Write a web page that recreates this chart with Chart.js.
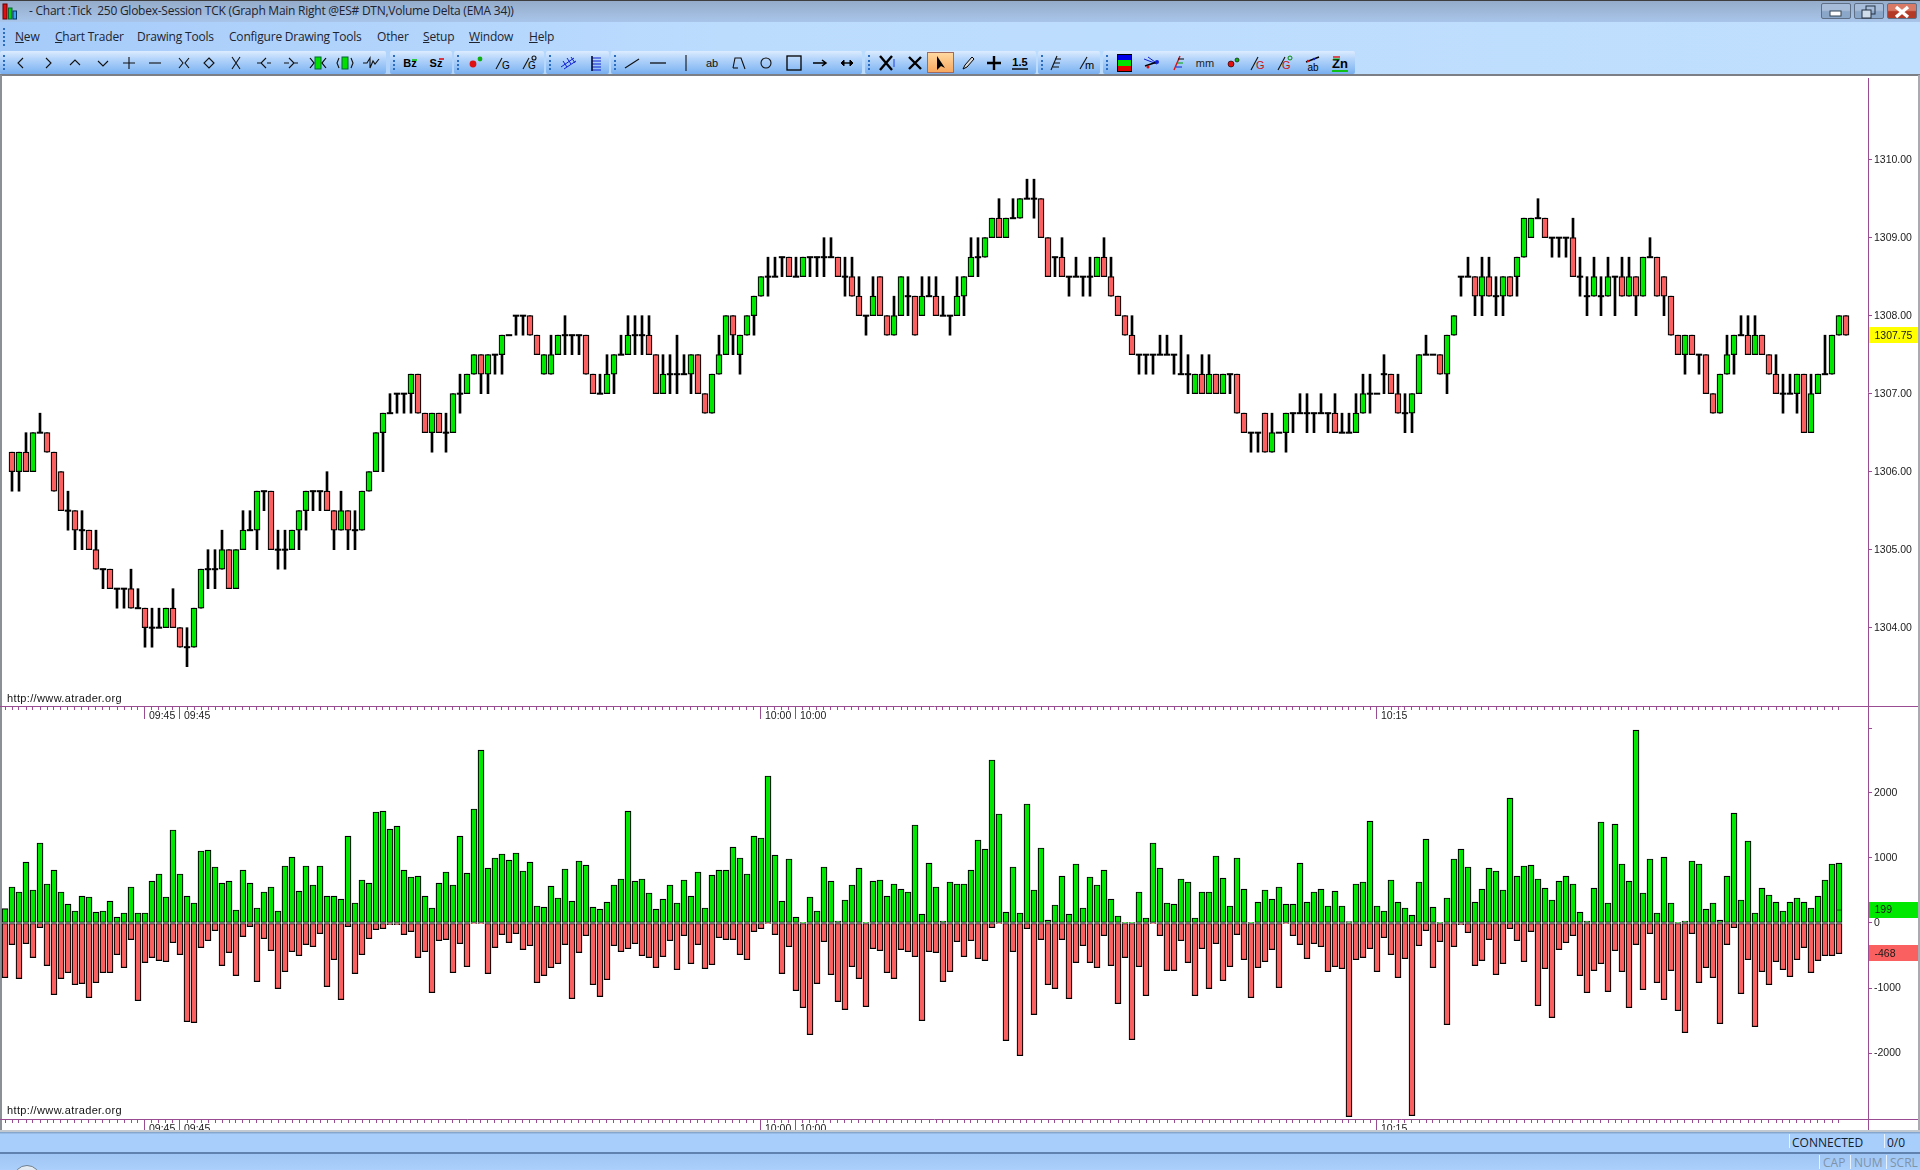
<!DOCTYPE html>
<html><head><meta charset="utf-8"><title>Chart</title>
<script src="https://cdn.jsdelivr.net/npm/chart.js@4/dist/chart.umd.js"></script>
<style>
html,body{margin:0;padding:0;background:#fff;width:1920px;height:1170px;overflow:hidden;font-family:"Liberation Sans",Arial,sans-serif}
.a{position:absolute}
canvas{position:absolute;left:0}
.ui{font-family:"Open Sans","Noto Sans",sans-serif;white-space:pre;color:#1c2430}
.menu u{text-decoration:underline}
.group{position:absolute;top:51px;height:23px;border-radius:2px;background:linear-gradient(#dcecff 0%,#b4d4fa 35%,#8cbcf4 80%,#78aeee 100%)}
.grip{position:absolute;width:2px;border-left:2px dotted #2a6cc0}
.site{position:absolute;left:7px;font:11px "Liberation Sans",Arial,sans-serif;letter-spacing:.36px;color:#111}
</style></head><body>
<div id="chrome"></div>
<canvas id="priceCanvas" width="1920" height="648" style="top:78px"></canvas>
<canvas id="deltaCanvas" width="1920" height="424" style="top:706px"></canvas>
<div class="site" style="top:692px">http://www.atrader.org</div>
<div class="site" style="top:1104px">http://www.atrader.org</div>
<script>
// ---------- candles (bars 1..263) ----------
const opens=[1306.25,1306,1306.25,1306,1306.5,1306.5,1306.25,1306,1305.5,1305.5,
1305.25,1305.25,1305,1304.75,1304.75,1304.5,1304.5,1304.5,1304.25,1304.25,
1304,1304,1304,1304.25,1304,1303.75,1303.75,1304.25,1304.75,1304.75,
1304.75,1305,1304.5,1305,1305.25,1305.25,1305.75,1305.75,1305,1305,
1305,1305.25,1305.5,1305.75,1305.75,1305.75,1305.5,1305.25,1305.5,1305.25,
1305.25,1305.75,1306,1306.5,1306.75,1307,1307,1307,1307.25,1306.75,
1306.5,1306.75,1306.5,1306.5,1307,1307,1307.25,1307.5,1307.25,1307.5,
1307.5,1307.75,1308,1308,1308,1307.75,1307.25,1307.25,1307.5,1307.75,
1307.75,1307.75,1307.75,1307.25,1307,1307,1307.25,1307.5,1307.5,1307.75,
1307.75,1307.75,1307.5,1307,1307.25,1307.25,1307.25,1307.25,1307.5,1307,
1306.75,1307.25,1307.5,1308,1307.5,1307.75,1308,1308.25,1308.5,1308.5,
1308.75,1308.75,1308.5,1308.5,1308.75,1308.75,1308.75,1308.75,1308.75,1308.5,
1308.5,1308.25,1308,1308,1308.5,1308,1307.75,1308,1308.25,1308.25,
1308,1308.25,1308.25,1308,1308,1308,1308.25,1308.5,1308.75,1308.75,
1309,1309.25,1309,1309.25,1309.25,1309.5,1309.5,1309.5,1309,1308.75,
1308.75,1308.5,1308.5,1308.5,1308.5,1308.5,1308.75,1308.5,1308.25,1308,
1307.75,1307.5,1307.5,1307.5,1307.5,1307.5,1307.5,1307.25,1307.25,1307,
1307.25,1307,1307.25,1307,1307.25,1307.25,1306.75,1306.5,1306.5,1306.75,
1306.25,1306.5,1306.5,1306.75,1306.75,1306.75,1306.75,1306.75,1306.75,1306.75,
1306.5,1306.5,1306.5,1306.75,1307,1307,1307.25,1307.25,1307,1306.75,
1306.75,1307,1307.5,1307.5,1307.5,1307.25,1307.75,1308.5,1308.5,1308.5,
1308.25,1308.5,1308.25,1308.25,1308.5,1308.5,1308.75,1309,1309.25,1309.25,
1309,1309,1309,1309,1308.5,1308.25,1308.25,1308.25,1308.25,1308.5,
1308.5,1308.25,1308.5,1308.25,1308.75,1308.75,1308.5,1308.25,1307.75,1307.5,
1307.75,1307.5,1307.5,1307,1306.75,1307.25,1307.5,1307.75,1307.75,1307.5,
1307.75,1307.5,1307.25,1307,1307,1307,1307.25,1306.5,1307,1307.25,
1307.25,1307.75,1308];
const closes=[1306,1306.25,1306,1306.5,1306.5,1306.25,1305.75,1305.5,1305.5,1305.25,
1305.25,1305,1304.75,1304.75,1304.5,1304.5,1304.5,1304.25,1304.25,1304,
1304,1304,1304.25,1304,1303.75,1303.75,1304.25,1304.75,1304.75,1304.75,
1305,1304.5,1305,1305.25,1305.25,1305.75,1305.75,1305,1305,1305,
1305.25,1305.5,1305.75,1305.75,1305.75,1305.5,1305.25,1305.5,1305.25,1305.25,
1305.75,1306,1306.5,1306.75,1306.75,1307,1307,1307.25,1306.75,1306.5,
1306.75,1306.5,1306.5,1307,1307,1307.25,1307.5,1307.25,1307.5,1307.5,
1307.75,1307.75,1308,1308,1307.75,1307.5,1307.5,1307.5,1307.75,1307.75,
1307.75,1307.75,1307.25,1307,1307,1307.25,1307.5,1307.5,1307.75,1307.75,
1307.75,1307.5,1307,1307.25,1307.25,1307.25,1307.25,1307.5,1307,1306.75,
1307.25,1307.5,1308,1307.75,1307.75,1308,1308.25,1308.5,1308.5,1308.5,
1308.75,1308.5,1308.5,1308.75,1308.75,1308.75,1308.75,1308.75,1308.5,1308.5,
1308.25,1308,1308,1308.25,1308,1307.75,1308,1308.5,1308.25,1307.75,
1308.25,1308.25,1308,1308,1308,1308.25,1308.5,1308.75,1308.75,1309,
1309.25,1309,1309.25,1309.25,1309.5,1309.5,1309.5,1309,1308.5,1308.75,
1308.5,1308.5,1308.5,1308.5,1308.5,1308.75,1308.5,1308.25,1308,1307.75,
1307.5,1307.5,1307.5,1307.5,1307.5,1307.5,1307.5,1307.25,1307.25,1307.25,
1307,1307.25,1307,1307.25,1307.25,1306.75,1306.5,1306.5,1306.5,1306.25,
1306.5,1306.5,1306.75,1306.75,1306.75,1306.75,1306.75,1306.75,1306.75,1306.5,
1306.5,1306.5,1306.75,1307,1307,1307,1307.25,1307,1306.75,1306.75,
1307,1307.5,1307.5,1307.5,1307.25,1307.75,1308,1308.5,1308.5,1308.25,
1308.5,1308.25,1308.25,1308.5,1308.25,1308.75,1309.25,1309.25,1309.25,1309,
1309,1309,1309,1308.5,1308.5,1308.25,1308.5,1308.25,1308.5,1308.5,
1308.25,1308.5,1308.25,1308.75,1308.75,1308.25,1308.25,1307.75,1307.5,1307.75,
1307.5,1307.5,1307,1306.75,1307.25,1307.5,1307.75,1307.75,1307.5,1307.75,
1307.5,1307.25,1307,1307,1307,1307.25,1306.5,1307,1307.25,1307.25,
1307.75,1308,1307.75];
const highs=[1306.25,1306.25,1306.5,1306.5,1306.75,1306.5,1306.25,1306,1305.75,1305.5,
1305.5,1305.25,1305.25,1304.75,1304.75,1304.5,1304.5,1304.75,1304.5,1304.25,
1304.25,1304.25,1304.25,1304.5,1304,1304,1304.25,1304.75,1305,1305,
1305.25,1305,1305,1305.5,1305.5,1305.75,1305.75,1305.75,1305.25,1305.25,
1305.25,1305.5,1305.75,1305.75,1305.75,1306,1305.5,1305.75,1305.5,1305.5,
1305.75,1306,1306.5,1306.75,1307,1307,1307,1307.25,1307.25,1306.75,
1306.75,1306.75,1306.75,1307,1307.25,1307.25,1307.5,1307.5,1307.5,1307.5,
1307.75,1307.75,1308,1308,1308,1307.75,1307.5,1307.75,1307.75,1308,
1307.75,1307.75,1307.75,1307.25,1307.25,1307.5,1307.5,1307.75,1308,1308,
1308,1308,1307.5,1307.5,1307.5,1307.75,1307.5,1307.5,1307.5,1307,
1307.25,1307.75,1308,1308,1307.75,1308,1308.25,1308.5,1308.75,1308.75,
1308.75,1308.75,1308.75,1308.75,1308.75,1308.75,1309,1309,1308.75,1308.75,
1308.75,1308.5,1308,1308.5,1308.5,1308,1308.25,1308.5,1308.5,1308.25,
1308.5,1308.5,1308.5,1308.25,1308,1308.5,1308.5,1309,1309,1309,
1309.25,1309.5,1309.25,1309.5,1309.5,1309.75,1309.75,1309.5,1309,1308.75,
1309,1308.5,1308.75,1308.5,1308.75,1308.75,1309,1308.75,1308.25,1308,
1308,1307.5,1307.5,1307.5,1307.75,1307.75,1307.5,1307.75,1307.5,1307.25,
1307.5,1307.5,1307.25,1307.25,1307.25,1307.25,1306.75,1306.5,1306.5,1306.75,
1306.75,1306.5,1306.75,1306.75,1307,1307,1306.75,1307,1306.75,1307,
1306.75,1306.75,1307,1307.25,1307.25,1307,1307.5,1307.25,1307.25,1307,
1307,1307.5,1307.75,1307.5,1307.5,1307.75,1308,1308.5,1308.75,1308.5,
1308.75,1308.75,1308.5,1308.5,1308.5,1308.75,1309.25,1309.25,1309.5,1309.25,
1309,1309,1309,1309.25,1308.75,1308.5,1308.75,1308.5,1308.75,1308.5,
1308.75,1308.75,1308.5,1308.75,1309,1308.75,1308.5,1308.25,1307.75,1307.75,
1307.75,1307.5,1307.5,1307,1307.25,1307.75,1307.75,1308,1308,1308,
1307.75,1307.5,1307.5,1307.25,1307.25,1307.25,1307.25,1307.25,1307.25,1307.75,
1307.75,1308,1308];
const lows=[1305.75,1305.75,1306,1306,1306.5,1306.25,1305.75,1305.5,1305.25,1305,
1305,1305,1304.75,1304.5,1304.5,1304.25,1304.25,1304.25,1304.25,1303.75,
1303.75,1304,1304,1304,1303.75,1303.5,1303.75,1304.25,1304.5,1304.5,
1304.75,1304.5,1304.5,1305,1305.25,1305,1305.5,1305,1304.75,1304.75,
1305,1305,1305.25,1305.5,1305.5,1305.5,1305,1305.25,1305,1305,
1305.25,1305.75,1306,1306,1306.75,1306.75,1306.75,1306.75,1306.75,1306.5,
1306.25,1306.5,1306.25,1306.5,1306.75,1307,1307.25,1307,1307,1307.25,
1307.25,1307.75,1307.75,1307.75,1307.75,1307.5,1307.25,1307.25,1307.5,1307.5,
1307.5,1307.5,1307.25,1307,1307,1307,1307,1307.5,1307.5,1307.5,
1307.5,1307.5,1307,1307,1307,1307,1307.25,1307,1307,1306.75,
1306.75,1307.25,1307.5,1307.5,1307.25,1307.75,1307.75,1308.25,1308.25,1308.5,
1308.5,1308.5,1308.5,1308.5,1308.5,1308.5,1308.5,1308.75,1308.5,1308.25,
1308.25,1308,1307.75,1308,1308,1307.75,1307.75,1308,1308,1307.75,
1308,1308.25,1308,1308,1307.75,1308,1308,1308.5,1308.5,1308.75,
1309,1309,1309,1309.25,1309.25,1309.5,1309.25,1309,1308.5,1308.5,
1308.5,1308.25,1308.5,1308.25,1308.25,1308.5,1308.5,1308.25,1308,1307.75,
1307.5,1307.25,1307.25,1307.25,1307.5,1307.5,1307.25,1307.25,1307,1307,
1307,1307,1307,1307,1307,1306.75,1306.5,1306.25,1306.25,1306.25,
1306.25,1306.5,1306.25,1306.5,1306.75,1306.5,1306.5,1306.75,1306.5,1306.5,
1306.5,1306.5,1306.5,1306.75,1306.75,1307,1307,1307,1306.75,1306.5,
1306.5,1307,1307.5,1307.5,1307.25,1307,1307.75,1308.25,1308.5,1308,
1308,1308.25,1308,1308,1308.25,1308.25,1308.75,1309,1309.25,1309,
1308.75,1308.75,1308.75,1308.5,1308.25,1308,1308.25,1308,1308.25,1308,
1308.25,1308.25,1308,1308.25,1308.75,1308.25,1308,1307.75,1307.5,1307.25,
1307.5,1307.25,1307,1306.75,1306.75,1307.25,1307.25,1307.75,1307.5,1307.5,
1307.5,1307.25,1307,1306.75,1307,1306.75,1306.5,1306.5,1307,1307.25,
1307.25,1307.75,1307.75];
// ---------- volume delta (bars 0..262) ----------
const buyVolume=[221,554,477,938,508,1231,600,815,477,292,
185,415,400,169,185,338,92,154,554,154,
154,646,754,400,1431,754,415,308,1108,1123,
862,615,646,200,815,615,231,477,554,185,
877,1015,492,877,585,877,415,415,369,1338,
308,662,615,1708,1723,1446,1492,815,708,723,
415,231,615,785,585,1338,769,1754,2661,846,
1000,1062,969,1077,800,938,262,246,569,385,
831,338,954,892,246,215,323,585,677,1723,
646,677,462,215,369,585,308,662,415,785,
231,738,815,815,1169,1000,754,1338,1308,2262,
1046,338,985,92,5,400,185,862,646,31,
354,585,846,5,646,662,415,600,523,477,
1508,138,923,554,31,631,600,600,815,1277,
1138,2508,1677,169,862,154,1831,508,1154,46,
277,723,138,908,231,708,585,815,369,108,
5,5,477,77,1231,846,308,292,677,631,
77,477,477,1031,692,262,1000,523,5,323,
508,369,554,292,292,923,323,477,523,262,
492,262,20,600,631,1569,262,185,662,323,
231,123,631,1292,246,5,385,985,1138,862,
323,523,846,800,508,1923,723,877,892,677,
538,354,646,723,600,169,31,538,1554,308,
1523,908,646,2969,462,985,154,1015,308,5,
31,954,908,215,308,46,723,1692,354,1262,
154,538,431,323,185,323,385,323,231,415,
662,908,923];
const sellVolume=[-841,-333,-856,-318,-533,-72,-656,-1103,-856,-764,
-949,-933,-1149,-918,-764,-764,-487,-687,-256,-1195,
-610,-533,-579,-595,-303,-487,-1518,-1533,-379,-272,
-118,-656,-456,-810,-210,-56,-903,-241,-426,-1010,
-749,-441,-503,-333,-364,-164,-979,-564,-1179,-56,
-779,-487,-241,-103,-87,-26,-26,-179,-133,-533,
-441,-1072,-272,-256,-764,-318,-672,-5,-5,-779,
-379,-179,-303,-164,-410,-349,-918,-810,-687,-626,
-333,-1164,-456,-195,-949,-1133,-872,-349,-441,-395,
-318,-503,-533,-687,-518,-272,-718,-195,-626,-333,
-703,-641,-226,-256,-256,-487,-564,-133,-87,-10,
-179,-779,-364,-1041,-1303,-1718,-933,-287,-795,-1210,
-1333,-672,-856,-1287,-395,-426,-764,-856,-410,-441,
-518,-1503,-441,-456,-903,-749,-287,-518,-272,-549,
-579,-72,-5,-1810,-441,-2041,-87,-1410,-256,-949,
-1010,-256,-1164,-610,-349,-610,-687,-195,-656,-1241,
-533,-1795,-672,-1118,-5,-195,-733,-733,-272,-610,
-1118,-395,-1010,-318,-887,-672,-179,-564,-1149,-687,
-595,-410,-995,-5,-195,-333,-549,-318,-364,-749,
-672,-703,-2979,-564,-533,-395,-749,-226,-487,-841,
-549,-2964,-349,-118,-687,-287,-1564,-364,-26,-149,
-656,-579,-256,-795,-626,-87,-272,-595,-133,-1272,
-703,-1456,-410,-303,-195,-810,-1072,-733,-626,-1056,
-426,-749,-1303,-333,-1026,-164,-918,-1179,-733,-1349,
-1687,-164,-918,-687,-841,-1549,-333,-72,-1087,-564,
-1595,-749,-949,-595,-718,-826,-564,-379,-764,-579,
-503,-503,-472];
// ---------- axes and labels ----------
const priceTicks=[1304,1305,1306,1307,1308,1309,1310];
const deltaTicks=[3000,2000,1000,0,-1000,-2000];
const hiddenDeltaTick=3000;
const timeTickBars=[20,25,108,113,196];
const timeTickLabels=['09:45','09:45','10:00','10:00','10:15'];
const lastPrice=1307.75, lastDeltaUp=199, lastDeltaDown=-468;
// ---------- styles ----------
const UP='#00E800',DOWN='#FA6060',INK='#000',AXIS='#9A4C92',TXT='#1a1a1a',FONT='"Liberation Sans",Arial,sans-serif';
const barIdx=buyVolume.map((_,i)=>i);
const xMin=-5/7,xMax=(1868-5)/7;
Chart.defaults.animation=false;
Chart.defaults.responsive=false;
Chart.defaults.devicePixelRatio=1;

function noPad(a){a.paddingLeft=a.paddingRight=a.paddingTop=a.paddingBottom=0}
function xAxes(labelAreaHeight){
  return {
    x:{type:'linear',offset:false,min:xMin,max:xMax,position:'bottom',weight:0,
      afterBuildTicks:a=>{a.ticks=barIdx.map(v=>({value:v}))},
      afterFit:a=>{a.height=0;noPad(a)},
      ticks:{display:false,autoSkip:false,maxRotation:0,minRotation:0},
      grid:{offset:false,drawOnChartArea:false,tickLength:4,tickColor:AXIS,tickWidth:1},
      border:{color:AXIS,width:1}},
    xTime:{type:'linear',axis:'x',offset:false,min:xMin,max:xMax,position:'bottom',weight:1,
      afterBuildTicks:a=>{a.ticks=timeTickBars.map(v=>({value:v}))},
      afterFit:a=>{a.height=labelAreaHeight;noPad(a)},
      ticks:{autoSkip:false,maxRotation:0,minRotation:0,align:'start',labelOffset:4,padding:-9,
        color:TXT,font:{family:FONT,size:10.5},
        callback:v=>timeTickLabels[timeTickBars.indexOf(v)]},
      grid:{offset:false,drawOnChartArea:false,tickLength:13,tickColor:AXIS,tickWidth:1},
      border:{display:false}}
  };
}
function yAxis(min,max,ticks,fmt){
  return {type:'linear',position:'right',min,max,beginAtZero:false,
    afterBuildTicks:a=>{a.ticks=ticks.map(v=>({value:v}))},
    afterFit:a=>{a.width=52;noPad(a)},
    ticks:{padding:2,color:TXT,font:{family:FONT,size:10.5},callback:fmt},
    grid:{drawOnChartArea:false,tickLength:4,tickColor:AXIS,tickWidth:1},
    border:{color:AXIS,width:1}};
}
function flags(list){
  return {id:'flags',afterDraw(c){
    const g=c.ctx,s=c.scales.y,left=c.chartArea.right+1;
    list.forEach(f=>{
      const y=s.getPixelForValue(f.value);
      g.save();g.fillStyle=f.bg;g.fillRect(left,Math.round(y)-8,49,16);
      g.fillStyle=TXT;g.font='10.5px '+FONT;g.textBaseline='middle';g.textAlign='left';
      g.fillText(f.text,1874.5,y+.5);g.restore();
    });
  }};
}
const commonOpts={layout:{padding:0,autoPadding:false},
  plugins:{legend:{display:false},tooltip:{enabled:false}},
  events:[]};

// ---- price pane ----
const candleX=opens.map((_,k)=>k+1);
const priceMin=1302.996,priceMax=priceMin+628/78;
new Chart(document.getElementById('priceCanvas'),{
  type:'bar',
  data:{datasets:[
    {label:'Range',order:3,grouped:false,barThickness:2,backgroundColor:INK,borderWidth:0,
      data:candleX.map((x,k)=>({x,y:[lows[k],highs[k]]}))},
    {label:'Body',order:2,grouped:false,barThickness:6,borderColor:INK,borderWidth:1.2,borderSkipped:false,
      backgroundColor:c=>{const r=c.raw;return r&&r.up?UP:DOWN},
      data:candleX.map((x,k)=>({x,y:[opens[k],closes[k]],up:closes[k]>opens[k]})).filter(d=>d.y[0]!==d.y[1])},
    {label:'Flat',type:'scatter',order:1,pointStyle:'line',pointRadius:3.2,pointBorderWidth:2,
      pointBorderColor:INK,pointBackgroundColor:INK,showLine:false,
      data:candleX.map((x,k)=>({x,y:opens[k]})).filter((d,k)=>opens[k]===closes[k])}
  ]},
  options:{...commonOpts,scales:{...xAxes(20),
    y:yAxis(priceMin,priceMax,priceTicks,v=>v.toFixed(2))}},
  plugins:[flags([{value:lastPrice,text:lastPrice.toFixed(2),bg:'#FFFF00'}])]
});

// ---- delta pane ----
const deltaPerPx=1/0.065, deltaZeroPx=923-706, deltaH=413;
const deltaMax=deltaZeroPx*deltaPerPx, deltaMin=(deltaZeroPx-deltaH)*deltaPerPx;
new Chart(document.getElementById('deltaCanvas'),{
  type:'bar',
  data:{datasets:[
    {label:'Sell',order:2,grouped:false,barThickness:6,backgroundColor:DOWN,borderColor:INK,borderWidth:1.2,borderSkipped:false,
      data:barIdx.map(i=>({x:i,y:sellVolume[i]}))},
    {label:'Buy',order:1,grouped:false,barThickness:6,backgroundColor:UP,borderColor:INK,borderWidth:1.2,borderSkipped:false,
      data:barIdx.map(i=>({x:i,y:buyVolume[i]}))},
    {label:'Last',type:'scatter',order:0,pointStyle:'line',pointRadius:2.5,pointBorderWidth:1,
      pointBorderColor:'#0a5a0a',showLine:false,data:[{x:barIdx[barIdx.length-1],y:lastDeltaUp}]}
  ]},
  options:{...commonOpts,scales:{...xAxes(11),
    y:yAxis(deltaMin,deltaMax,deltaTicks,v=>v===hiddenDeltaTick?'':String(v))}},
  plugins:[flags([
    {value:lastDeltaUp,text:String(lastDeltaUp),bg:UP},
    {value:lastDeltaDown,text:String(lastDeltaDown),bg:DOWN}])]
});

// ---------- application chrome ----------
const host=document.getElementById('chrome');
function div(css,html,cls){const d=document.createElement('div');d.className='a '+(cls||'');d.style.cssText=css;if(html)d.innerHTML=html;host.appendChild(d);return d}
div('left:0;top:0;width:1920px;height:22px;background:linear-gradient(#94abc8,#a8c5ea)');
div('left:0;top:0;width:1920px;height:1px;background:#3e3e3e');
div('left:0;top:22px;width:1920px;height:52px;background:linear-gradient(90deg,#a6cbf9 0,#bcdcfe 720px,#c0dffe 100%)');
div('left:0;top:74px;width:1920px;height:1.5px;background:#7c7f85');
div('left:0;top:75px;width:2px;height:1055px;background:#8b8f96');
div('left:1918px;top:75px;width:2px;height:1055px;background:#a8acb2');
div('left:1868px;top:1119px;width:1px;height:11px;background:'+AXIS);
div('left:1868px;top:706px;width:50px;height:1px;background:'+AXIS);
div('left:1868px;top:1119px;width:50px;height:1px;background:'+AXIS);
// title
div('left:2px;top:3px;width:16px;height:16px','<svg width="16" height="17"><rect x="1" y="1" width="4" height="15" fill="#e01010" stroke="#600"/><rect x="6.5" y="5" width="3.5" height="11" fill="#10c810" stroke="#063"/><rect x="11" y="8" width="3.5" height="8" fill="#3aa0f0" stroke="#036"/></svg>');
div('left:29px;top:3px;font-size:12px;line-height:16px;letter-spacing:-.25px','- Chart :Tick  250 Globex-Session TCK (Graph Main Right @ES# DTN,Volume Delta (EMA 34))','ui');
// window buttons
[[1821,30,'#a6bcd8','#8aa6c8','<rect x="9" y="8" width="11" height="5" fill="#fff" stroke="#345"/>'],
 [1854,30,'#a6bcd8','#8aa6c8','<rect x="12" y="3" width="9" height="8" fill="none" stroke="#234"/><rect x="8" y="7" width="9" height="8" fill="#cfdcea" stroke="#234"/>'],
 [1887,30,'#d87a66','#b43a28','<path d="M9 4 L21 14 M21 4 L9 14" stroke="#fff" stroke-width="3.4"/>']].forEach(b=>{
  div(`left:${b[0]}px;top:3px;width:${b[1]}px;height:16px;border:1px solid #5f6f85;border-radius:2px;box-sizing:border-box;background:linear-gradient(${b[2]} 45%,${b[3]} 55%)`,
  `<svg width="${b[1]}" height="16" style="position:absolute;left:-1px;top:-1px">${b[4]}</svg>`);
});
// menu
const menuItems=[[15,'<u>N</u>ew'],[55,'<u>C</u>hart Trader'],[137,'Drawing Tools'],[229,'Configure Drawing Tools'],[377,'Other'],[423,'<u>S</u>etup'],[469,'<u>W</u>indow'],[529,'<u>H</u>elp']];
menuItems.forEach(m=>div(`left:${m[0]}px;top:28px;font-size:12px;line-height:17px;letter-spacing:-.2px`,m[1],'ui menu'));
div('left:3px;top:28px;height:18px;width:2px;border-left:2px dotted #2a6cc0');
// toolbar groups
[[0,386],[390,452],[454,544],[546,609],[611,862],[865,1036],[1038,1100],[1103,1355]].forEach(g=>{
  const d=div(`left:${g[0]}px;width:${g[1]-g[0]}px`,'','group');d.style.top='51px';
  const gr=document.createElement('div');gr.className='grip';gr.style.cssText='left:3px;top:4px;height:15px';d.appendChild(gr);
});
const S='fill="none" stroke="#111" stroke-width="1.1"';
const thick='fill="none" stroke="#000" stroke-width="2.2"';
const T=(t,extra)=>`<text x="10" y="14" text-anchor="middle" font-family="Liberation Sans" font-size="11" ${extra||''}>${t}</text>`;
const icons=[
 [21,`<path d="M12 5 L7 10 L12 15" ${S}/>`],[48,`<path d="M8 5 L13 10 L8 15" ${S}/>`],
 [75,`<path d="M5 12 L10 7 L15 12" ${S}/>`],[103,`<path d="M5 8 L10 13 L15 8" ${S}/>`],
 [129,`<path d="M4 10 H16 M10 4 V16" ${S}/>`],[155,`<path d="M4 10 H16" ${S}/>`],
 [184,`<path d="M5 5 L9 10 L5 15 M15 5 L11 10 L15 15" ${S}/>`],[209,`<path d="M10 5 L15 10 L10 15 L5 10 Z" ${S}/>`],
 [236,`<path d="M6 4 L14 16 M14 4 L6 16" ${S}/>`],
 [264,`<path d="M3 10 H8 M12 5 L7 10 L12 15 M13 10 H17" ${S}/>`],[291,`<path d="M3 10 H8 M8 5 L13 10 L8 15 M13 10 H17" ${S}/>`],
 [318,`<rect x="7" y="4" width="6" height="12" fill="#00e000" stroke="#063"/><path d="M2 5 L6 10 L2 15 M18 5 L14 10 L18 15" fill="none" stroke="#000" stroke-width="1.2"/>`],
 [345,`<rect x="7" y="4" width="6" height="12" fill="#00e000" stroke="#063"/><path d="M4 5 L2 10 L4 15 M16 5 L18 10 L16 15" ${S}/>`],
 [371,`<path d="M2 10 H6 L9 5 V15 L12 8 L14 11 L18 6" ${S}/>`],
 [410,T('Bz','font-weight="bold" fill="#000"')+`<path d="M12 7 L17 7" stroke="#00c000" stroke-width="1.5"/>`],
 [436,T('Sz','font-weight="bold" fill="#000"')+`<path d="M13 6 L18 6" stroke="#e00000" stroke-width="1.5"/>`],
 [475,`<circle cx="8" cy="11" r="3.4" fill="#e01010"/><circle cx="15" cy="6" r="2.4" fill="#10b010"/>`],
 [503,`<path d="M3 16 L9 5" ${S}/>`+`<text x="9" y="16" font-family="Liberation Sans" font-size="10">G</text>`],
 [529,`<path d="M4 16 L10 5" ${S}/><circle cx="15" cy="5" r="2" ${S}/><text x="9" y="16" font-family="Liberation Sans" font-size="10">G</text>`],
 [568,`<path d="M3 14 L16 5 M6 16 L18 8 M5 8 L9 14 M9 5 L13 11 M13 4 L17 10" fill="none" stroke="#1020d0" stroke-width="1"/>`],
 [596,`<path d="M6 3 V18 M6 5 H15 M6 8 H15 M6 11 H15 M6 14 H15 M6 17 H15" fill="none" stroke="#1020d0" stroke-width="1"/><path d="M6 3 V18" stroke="#000" stroke-width="1.2"/>`],
 [632,`<path d="M3 15 L17 6" ${S}/>`],[658,`<path d="M2 10 H18" stroke="#000" stroke-width="1.2"/>`],[686,`<path d="M10 2 V18" stroke="#000" stroke-width="1"/>`],
 [712,T('ab','fill="#111"')],[739,`<path d="M4 15 L6 5 H12 L16 16" ${S}/><path d="M4 15 H9" ${S}/>`],
 [766,`<circle cx="10" cy="10" r="5" ${S}/>`],[794,`<rect x="3" y="3" width="14" height="14" fill="none" stroke="#000" stroke-width="1.3"/>`],
 [820,`<path d="M3 10 H15 M12 7 L16 10 L12 13" fill="none" stroke="#000" stroke-width="1.5"/>`],[847,`<path d="M6 10 H14" stroke="#000" stroke-width="1.4"/><path d="M7 7 L4 10 L7 13 Z M13 7 L16 10 L13 13 Z" fill="#000" stroke="#000"/>`],
 [887,`<path d="M3 3 L15 17 M15 3 L3 17" fill="none" stroke="#000" stroke-width="2.4"/><path d="M17 6 V14" stroke="#2040e0"/>`],[915,`<path d="M4 4 L16 16 M16 4 L4 16" fill="none" stroke="#000" stroke-width="2.4"/>`],
 [968,`<path d="M5 16 L7 12 L14 4 L16 6 L9 14 Z" fill="#ddd" stroke="#000"/>`],[994,`<path d="M3 10 H17 M10 3 V17" fill="none" stroke="#000" stroke-width="2.4"/>`],
 [1020,`<text x="10" y="13" text-anchor="middle" font-family="Liberation Sans" font-size="11" font-weight="bold">1.5</text><path d="M2 16 H18" stroke="#000" stroke-width="1.4"/>`],
 [1057,`<path d="M4 17 L10 3" ${S}/><path d="M8 6 H14 M7 10 H13 M6 14 H12" ${S}/>`],[1087,`<path d="M3 16 L10 4" ${S}/><text x="8" y="16" font-family="Liberation Sans" font-size="11">m</text>`],
 [1151,`<path d="M3 6 L16 11 M7 4 L14 9" fill="none" stroke="#1020d0"/><path d="M4 13 L16 9" stroke="#000" stroke-width="1.5"/><circle cx="7" cy="14" r="1.5" fill="#e01010"/><circle cx="16" cy="9" r="2" fill="#1020d0"/>`],
 [1179,`<path d="M5 17 L11 3" stroke="#e01010" stroke-width="1.4"/><path d="M9 6 H15" stroke="#000"/><path d="M8 10 H14" stroke="#00a000"/><path d="M7 14 H13" stroke="#1020d0"/>`],
 [1205,`<text x="10" y="14" text-anchor="middle" font-family="Liberation Sans" font-size="11" fill="#222">mm</text>`],
 [1233,`<circle cx="8" cy="11" r="3" fill="#e01010" stroke="#000" stroke-width=".6"/><circle cx="14" cy="7" r="2" fill="#10b010" stroke="#000" stroke-width=".6"/>`],
 [1258,`<path d="M3 17 L10 4" ${S}/><text x="8" y="16" font-family="Liberation Sans" font-size="11" fill="#d01010">G</text>`],
 [1285,`<path d="M3 17 L10 4" ${S}/><text x="7" y="16" font-family="Liberation Sans" font-size="11" fill="#d01010">G</text><circle cx="15" cy="5" r="2" fill="none" stroke="#080"/>`],
 [1313,`<path d="M3 9 L16 4" stroke="#000" stroke-width="1.4"/><circle cx="5" cy="8" r="1.2" fill="#e01010"/><circle cx="11" cy="6" r="1.2" fill="#1020d0"/><text x="10" y="18" text-anchor="middle" font-family="Liberation Sans" font-size="10">ab</text>`],
 [1340,`<text x="10" y="15" text-anchor="middle" font-family="Liberation Sans" font-size="13" font-weight="bold">Zn</text><path d="M3 4 H10" stroke="#e01010" stroke-width="1.4"/><path d="M3 6 H10" stroke="#00b000" stroke-width="1"/><path d="M2 18 H18" stroke="#00c000" stroke-width="1.8"/>`]
];
// highlighted pointer tool and palette box
div('left:927px;top:52px;width:27px;height:21px;box-sizing:border-box;border:1px solid #a06a60;background:linear-gradient(#ffd8a0,#f8a860)');
icons.push([941,`<path d="M6 3 V17 L10 13 L14 15 Z" fill="#000"/>`]);
div('left:1117px;top:54px;width:15px;height:18px;box-sizing:border-box;border:1px solid #000;background:linear-gradient(#0000e8 0,#0000e8 33%,#00e000 33%,#00e000 66%,#e00000 66%)');
icons.forEach(i=>{
  div(`left:${i[0]-10}px;top:53px;width:20px;height:20px`,`<svg width="20" height="20" viewBox="0 0 20 20">${i[1]}</svg>`);
});
// status bars
div('left:0;top:1130px;width:1920px;height:2px;background:#c3c9d0');
div('left:0;top:1132px;width:1920px;height:20px;background:linear-gradient(#7c9cc0 0,#a8cffb 12%,#a8cffb 100%)');
div('left:0;top:1152px;width:1920px;height:2px;background:#5f83ae');
div('left:0;top:1154px;width:1920px;height:16px;background:linear-gradient(#9fc6f4,#accffb)');
div('left:13px;top:1165px;width:28px;height:28px;border-radius:50%;border:1px solid #6f7f90;background:linear-gradient(#e8eef4,#b9c6d4);box-sizing:border-box');
[[1789,1134,'#e8f3ff'],[1884,1134,'#e8f3ff'],[1819,1155,'#e8f3ff'],[1850,1155,'#e8f3ff'],[1886,1155,'#e8f3ff']].forEach(s=>div(`left:${s[0]}px;top:${s[1]}px;width:1px;height:14px;background:${s[2]}`));
div('left:1792px;top:1134px;font-size:12px;line-height:17px;color:#14202e','CONNECTED','ui');
div('left:1887px;top:1134px;font-size:12px;line-height:17px;color:#14202e','0/0','ui');
[[1823,'CAP'],[1854,'NUM'],[1890,'SCRL']].forEach(s=>div(`left:${s[0]}px;top:1154px;font-size:12px;line-height:17px;color:#7f93a8`,s[1],'ui'));
</script>
</body></html>
